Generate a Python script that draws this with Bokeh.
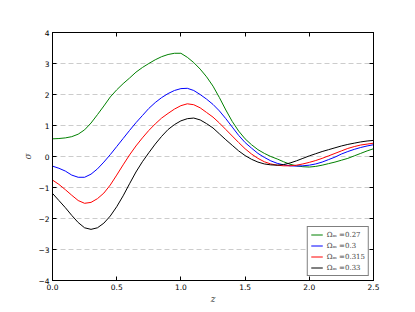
from bokeh.plotting import figure
from bokeh.models import Range1d, FixedTicker, LinearAxis
from bokeh.embed import file_html
from bokeh.resources import INLINE

# redshift samples
z = [i * 0.05 for i in range(51)]

sigma_027 = [0.57, 0.58, 0.60, 0.64, 0.72, 0.86, 1.08, 1.35, 1.63, 1.92,
             2.15, 2.35, 2.53, 2.72, 2.87, 3.00, 3.12, 3.22, 3.29, 3.33,
             3.33, 3.20, 3.03, 2.82, 2.57, 2.27, 1.90, 1.50, 1.13, 0.82,
             0.57, 0.38, 0.22, 0.10, 0.00, -0.08, -0.17, -0.25, -0.30, -0.33,
             -0.34, -0.32, -0.28, -0.23, -0.18, -0.12, -0.06, 0.02, 0.10, 0.18,
             0.25]
sigma_030 = [-0.31, -0.38, -0.47, -0.60, -0.67, -0.67, -0.57, -0.40, -0.18, 0.06,
             0.32, 0.58, 0.84, 1.09, 1.32, 1.55, 1.74, 1.90, 2.03, 2.13,
             2.19, 2.20, 2.13, 2.00, 1.85, 1.68, 1.47, 1.22, 0.95, 0.68,
             0.45, 0.27, 0.10, -0.03, -0.14, -0.22, -0.27, -0.30, -0.31, -0.30,
             -0.28, -0.24, -0.18, -0.10, -0.02, 0.08, 0.16, 0.23, 0.29, 0.34,
             0.38]
sigma_0315 = [-0.76, -0.90, -1.07, -1.25, -1.42, -1.51, -1.48, -1.36, -1.18, -0.92,
              -0.60, -0.27, 0.05, 0.34, 0.60, 0.84, 1.05, 1.24, 1.39, 1.53,
              1.64, 1.70, 1.67, 1.57, 1.42, 1.27, 1.08, 0.87, 0.66, 0.45,
              0.25, 0.08, -0.06, -0.17, -0.24, -0.28, -0.30, -0.30, -0.28, -0.24,
              -0.19, -0.13, -0.06, 0.02, 0.10, 0.18, 0.26, 0.32, 0.37, 0.40,
              0.43]
sigma_033 = [-1.19, -1.42, -1.65, -1.90, -2.13, -2.30, -2.35, -2.30, -2.15, -1.92,
             -1.62, -1.27, -0.88, -0.50, -0.17, 0.12, 0.40, 0.65, 0.87, 1.03,
             1.15, 1.22, 1.24, 1.18, 1.06, 0.92, 0.73, 0.54, 0.36, 0.18,
             0.03, -0.09, -0.18, -0.24, -0.27, -0.28, -0.26, -0.21, -0.14, -0.06,
             0.02, 0.09, 0.16, 0.22, 0.28, 0.34, 0.39, 0.43, 0.47, 0.50,
             0.52]

series = [sigma_027, sigma_030, sigma_0315, sigma_033]
labels = ["\u03a9\u2098 =0.27", "\u03a9\u2098 =0.3", "\u03a9\u2098 =0.315", "\u03a9\u2098 =0.33"]
colors = ["#008000", "#0000ff", "#ff0000", "#000000"]

x_ticks = [0.0, 0.5, 1.0, 1.5, 2.0, 2.5]
x_tick_labels = ["0.0", "0.5", "1.0", "1.5", "2.0", "2.5"]
y_ticks = [-4, -3, -2, -1, 0, 1, 2, 3, 4]
y_tick_labels = ["\u22124", "\u22123", "\u22122", "\u22121", "0", "1", "2", "3", "4"]

p = figure(width=415, height=312, output_backend="svg", toolbar_location=None,
           x_range=Range1d(0, 2.5), y_range=Range1d(-4, 4),
           min_border_left=52, min_border_right=42, min_border_top=32, min_border_bottom=32)
p.background_fill_color = "white"
p.border_fill_color = "white"
p.outline_line_color = "black"
p.outline_line_width = 1

for ys, lab, col in zip(series, labels, colors):
    p.line(z, ys, line_color=col, line_width=1, legend_label=lab)

# grid
p.xgrid.visible = False
p.ygrid.ticker = FixedTicker(ticks=y_ticks)
p.ygrid.grid_line_color = "#cccccc"
p.ygrid.grid_line_dash = "5 3"
p.ygrid.grid_line_width = 1

def style_axis(ax, show_labels=True):
    ax.axis_line_color = "black"
    ax.major_tick_line_color = "black"
    ax.major_tick_in = 4
    ax.major_tick_out = 0
    ax.minor_tick_line_color = None
    ax.major_label_text_font = "DejaVu Sans"
    ax.major_label_text_font_size = "7.5px"
    ax.major_label_text_color = "black" if show_labels else None
    ax.major_label_standoff = 3

xa = p.xaxis[0]
xa.ticker = FixedTicker(ticks=x_ticks)
xa.major_label_overrides = {t: s for t, s in zip(x_ticks, x_tick_labels)}
style_axis(xa)
xa.axis_label = "z"
xa.axis_label_text_font = "DejaVu Serif"
xa.axis_label_text_font_style = "italic"
xa.axis_label_text_font_size = "9px"
xa.axis_label_standoff = 1

ya = p.yaxis[0]
ya.ticker = FixedTicker(ticks=y_ticks)
ya.major_label_overrides = {t: s for t, s in zip(y_ticks, y_tick_labels)}
style_axis(ya)
ya.axis_label = "\u03c3"
ya.axis_label_text_font = "DejaVu Serif"
ya.axis_label_text_font_style = "italic"
ya.axis_label_text_font_size = "9px"
ya.axis_label_standoff = 2

top = LinearAxis(ticker=FixedTicker(ticks=x_ticks))
style_axis(top, show_labels=False)
p.add_layout(top, "above")
right = LinearAxis(ticker=FixedTicker(ticks=y_ticks))
style_axis(right, show_labels=False)
p.add_layout(right, "right")

lg = p.legend[0]
lg.location = "bottom_right"
lg.border_line_color = "black"
lg.border_line_width = 1
lg.background_fill_color = "white"
lg.background_fill_alpha = 1
lg.label_text_font = "DejaVu Serif"
lg.label_text_font_size = "7px"
lg.label_height = 9
lg.glyph_height = 9
lg.glyph_width = 12
lg.label_standoff = 4
lg.spacing = 2
lg.padding = 3
lg.margin = 4

open("out.html", "w").write(file_html(p, INLINE))
